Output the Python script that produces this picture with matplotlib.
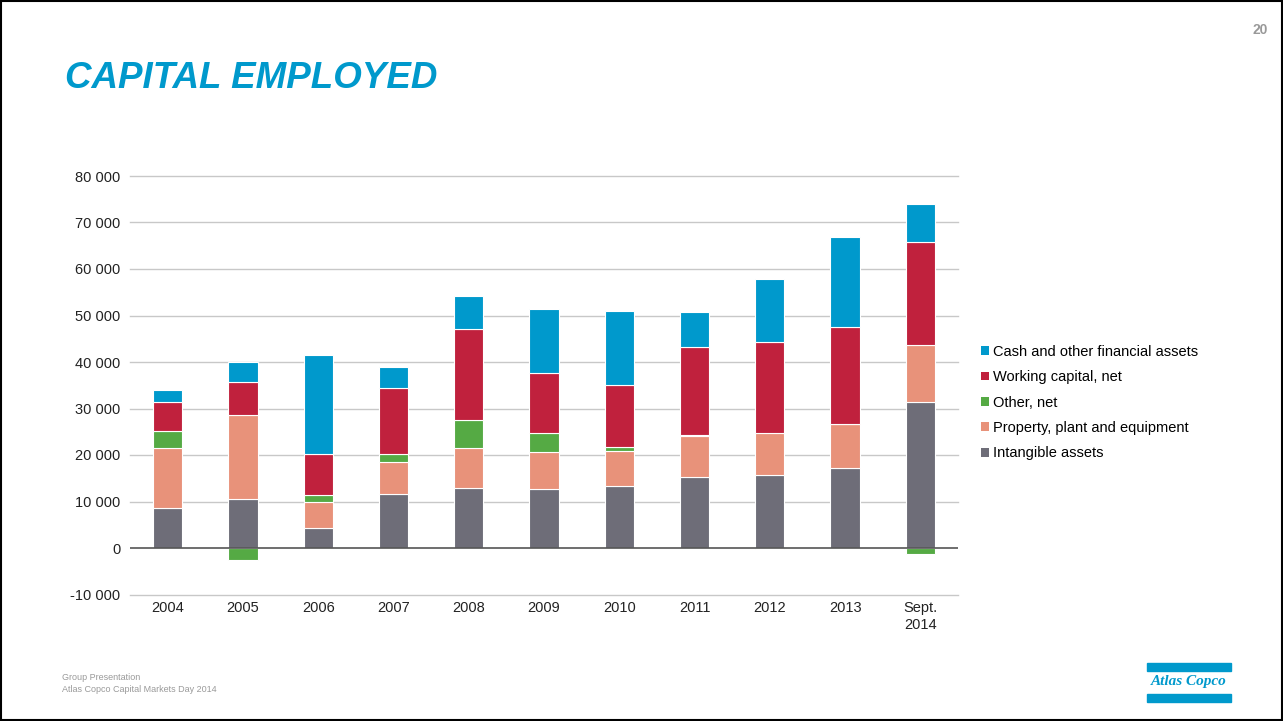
import matplotlib.pyplot as plt
import numpy as np
from matplotlib.patches import Rectangle

plt.rcParams['font.family'] = ['Liberation Sans', 'DejaVu Sans']

years = ["2004", "2005", "2006", "2007", "2008", "2009", "2010", "2011", "2012", "2013", "Sept.\n2014"]

# MSEK, read per component
intangible = [8500, 10500, 4200, 11600, 12800, 12600, 13400, 15300, 15800, 17300, 31500]
ppe = [12900, 18000, 5800, 6800, 8800, 8100, 7500, 8700, 8900, 9400, 12100]
other = [3800, -2600, 1300, 1900, 5900, 4100, 800, 400, -300, 0, -1200]
working_capital = [6200, 7300, 9000, 14200, 19600, 12900, 13300, 18900, 19500, 20800, 22200]
cash = [2600, 4100, 21100, 4500, 7100, 13600, 16000, 7500, 13700, 19400, 8200]

series = [
    ("Intangible assets", intangible, "#6e6d78"),
    ("Property, plant and equipment", ppe, "#e8927a"),
    ("Other, net", other, "#55aa44"),
    ("Working capital, net", working_capital, "#c0213d"),
    ("Cash and other financial assets", cash, "#0099cc"),
]

fig = plt.figure(figsize=(12.83, 7.21), dpi=100)
ax = fig.add_axes([130/1283, 126.5/721, 828/1283, 418.5/721])

x = np.arange(len(years))
pos_base = np.zeros(len(years))
neg_base = np.zeros(len(years))
handles = {}
for name, vals, col in series:
    vals = np.array(vals, dtype=float)
    bottoms = np.where(vals >= 0, pos_base, neg_base)
    h = ax.bar(x, vals, 0.39, bottom=bottoms, color=col, edgecolor="white",
               linewidth=0.8, zorder=3, label=name)
    handles[name] = h
    pos_base = pos_base + np.where(vals >= 0, vals, 0)
    neg_base = neg_base + np.where(vals < 0, vals, 0)

ax.set_xlim(-0.5, len(years) - 0.5)
ax.set_ylim(-10000, 80000)
ticks = np.arange(-10000, 80001, 10000)
ax.set_yticks(ticks)
ax.set_yticklabels(["{:,}".format(t).replace(",", " ") for t in ticks])
for t in ticks:
    if t == 0:
        ax.axhline(t, color="#555555", linewidth=1.2, zorder=4)
    else:
        ax.axhline(t, color="#c8c8c8", linewidth=1.0, zorder=1, clip_on=False)

ax.set_xticks(x)
ax.set_xticklabels(years)
ax.tick_params(length=0, labelsize=10.5, colors="#222222")
ax.tick_params(axis="y", pad=7)
ax.tick_params(axis="x", pad=5)
for s in ax.spines.values():
    s.set_visible(False)

# legend, top series first
order = ["Cash and other financial assets", "Working capital, net", "Other, net",
         "Property, plant and equipment", "Intangible assets"]
leg = fig.legend([handles[n] for n in order], order, loc="upper left",
                 bbox_to_anchor=(975/1283, 1 - 339/721), frameon=False,
                 fontsize=10.5, handlelength=0.55, handleheight=0.55,
                 handletextpad=0.3, labelspacing=0.78, borderaxespad=0)
for p in leg.get_patches():
    p.set_edgecolor("none")

# title, page number, footer
fig.text(65/1283, 1 - 78/721, "CAPITAL EMPLOYED", fontsize=26.5, fontweight="bold",
         fontstyle="italic", color="#0099cc", va="center", ha="left")
fig.text(1268/1283, 1 - 30/721, "20", fontsize=10, fontweight="bold",
         color="#999999", ha="right", va="center")
fig.text(62/1283, 1 - 677/721, "Group Presentation", fontsize=6.5,
         color="#9a9a9a", va="center")
fig.text(62/1283, 1 - 690/721, "Atlas Copco Capital Markets Day 2014", fontsize=6.5,
         color="#9a9a9a", va="center")

# logo
fig.patches.append(Rectangle((1147/1283, 1 - 671/721), 84/1283, 8/721,
                             transform=fig.transFigure, color="#0099cc"))
fig.patches.append(Rectangle((1147/1283, 1 - 702/721), 84/1283, 8/721,
                             transform=fig.transFigure, color="#0099cc"))
fig.text(1189/1283, 1 - 682/721, "Atlas Copco", fontsize=11, fontstyle="italic",
         fontweight="bold", family=["Liberation Serif", "DejaVu Serif"],
         color="#0099cc", ha="center", va="center")

# slide frame
fig.patches.append(Rectangle((0.001, 0.001), 0.998, 0.998, transform=fig.transFigure,
                             fill=False, edgecolor="black", linewidth=1.5))

fig.savefig("out.png", dpi=100)
